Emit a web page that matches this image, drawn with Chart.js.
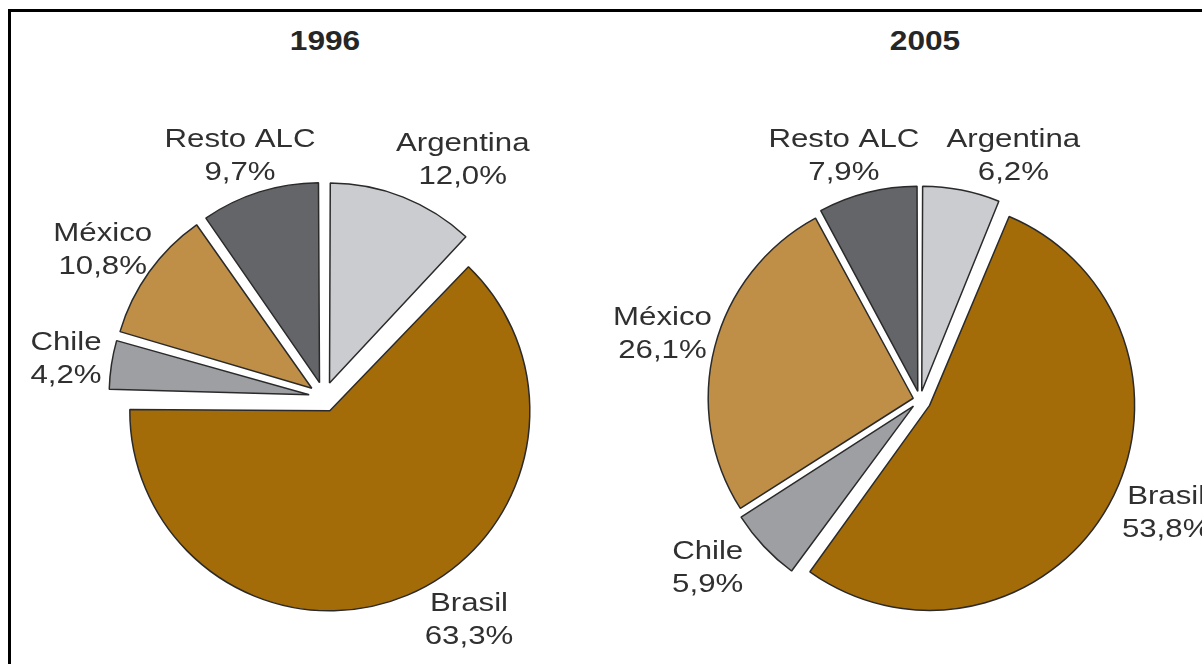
<!DOCTYPE html>
<html>
<head>
<meta charset="utf-8">
<script src="https://cdn.jsdelivr.net/npm/chart.js@4.4.1/dist/chart.umd.min.js"></script>
<style>
  html, body { margin: 0; padding: 0; background: #fff; }
  body { width: 1202px; height: 664px; overflow: hidden; position: relative; font-family: "Liberation Sans", Arial, sans-serif; }
  .frame { position: absolute; left: 8px; top: 9px; width: 1400px; height: 900px; border-top: 3px solid #000; border-left: 3px solid #000; }
  .title { position: absolute; top: 25px; width: 200px; text-align: center; font-weight: bold; font-size: 28px; color: #262626; transform: scaleX(1.13); }
  .pie { position: absolute; width: 640px; height: 640px; }
</style>
</head>
<body>
<div class="frame"></div>
<div class="title" style="left:225px">1996</div>
<div class="title" style="left:825px">2005</div>
<div class="pie" style="left:4px; top:77px"><canvas id="pie1996" width="640" height="640"></canvas></div>
<div class="pie" style="left:600px; top:80px"><canvas id="pie2005" width="640" height="640"></canvas></div>
<script>
// datos: participación (%) por país, en orden horario desde arriba
const countries = ['Argentina', 'Brasil', 'Chile', 'México', 'Resto ALC'];
const shares1996 = [12.0, 63.3, 4.2, 10.8, 9.7];
const shares2005 = [6.2, 53.8, 5.9, 26.1, 7.9];

const sliceColors = ['#cbcccf', '#a46c08', '#9d9fa3', '#bf8f48', '#646568'];

function pct(v) {
  return v.toFixed(1).replace('.', ',') + '%';
}

// plugin: compensa el radio de los sectores separados y escribe las etiquetas
function slicePlugin(cfg) {
  return {
    id: 'slices',
    beforeDatasetsDraw(chart) {
      chart.getDatasetMeta(0).data.forEach((arc, i) => {
        const fix = 1 - Math.sin(Math.min(Math.PI, arc.circumference));
        arc.outerRadius = cfg.radius - cfg.explode[i] * fix;
      });
    },
    afterDatasetsDraw(chart) {
      const ctx = chart.ctx;
      const meta = chart.getDatasetMeta(0);
      ctx.save();
      ctx.font = '26px "Liberation Sans", Arial, sans-serif';
      ctx.fillStyle = '#303030';
      ctx.textAlign = 'center';
      ctx.textBaseline = 'middle';
      meta.data.forEach((arc, i) => {
        const mid = (arc.startAngle + arc.endAngle) / 2;
        const d = cfg.radius + 60;
        const x = arc.x + Math.cos(mid) * d + cfg.nudge[i][0];
        const y = arc.y + Math.sin(mid) * d + cfg.nudge[i][1];
        const lines = [countries[i], pct(cfg.values[i])];
        lines.forEach((t, k) => {
          ctx.save();
          ctx.translate(x, y + (k - 0.5) * 33);
          ctx.scale(1.2, 1);
          ctx.fillText(t, 0, 0);
          ctx.restore();
        });
      });
      ctx.restore();
    }
  };
}

function makePie(id, values, radius, explode, nudge) {
  const ctx = document.getElementById(id).getContext('2d');
  return new Chart(ctx, {
    type: 'pie',
    data: {
      labels: countries,
      datasets: [{
        data: values,
        backgroundColor: sliceColors,
        borderColor: '#2a2a2a',
        borderWidth: 1.5,
        offset: explode.map(t => t * 4)
      }]
    },
    options: {
      responsive: false,
      animation: false,
      events: [],
      radius: radius,
      layout: { padding: 0 },
      plugins: {
        legend: { display: false },
        tooltip: { enabled: false }
      }
    },
    plugins: [slicePlugin({ values: values, radius: radius, explode: explode, nudge: nudge })]
  });
}

makePie('pie1996', shares1996, 200, [15, 15, 15, 15, 15],
  [[43, 5], [44, -16], [-1, 1], [-10, 5], [-6, 7]]);
makePie('pie2005', shares2005, 205, [9, 11, 9, 7, 9],
  [[42, 16], [15, -16], [-19, -13], [-1, 1], [-11, 13]]);
</script>
</body>
</html>
